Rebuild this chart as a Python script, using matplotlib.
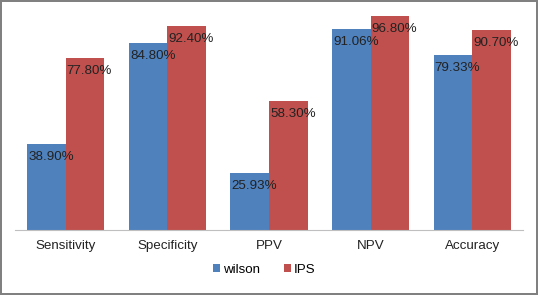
import matplotlib.pyplot as plt
import numpy as np

categories = ["Sensitivity", "Specificity", "PPV", "NPV", "Accuracy"]
wilson = [38.90, 84.80, 25.93, 91.06, 79.33]
ips = [77.80, 92.40, 58.30, 96.80, 90.70]
series_names = ["wilson", "IPS"]

blue = "#4F81BD"
red = "#C0504D"

plt.rcParams["font.family"] = ["Liberation Sans", "DejaVu Sans"]

fig = plt.figure(figsize=(5.38, 2.95), dpi=100)
fig.patch.set_edgecolor("#808080")
fig.patch.set_linewidth(1.5)
ax = fig.add_axes([15 / 538, (295 - 230) / 295, 508 / 538, 221 / 295])

x = np.arange(len(categories))
w = 0.379
b1 = ax.bar(x - w / 2, wilson, w, color=blue, label=series_names[0])
b2 = ax.bar(x + w / 2, ips, w, color=red, label=series_names[1])

for bars, vals in ((b1, wilson), (b2, ips)):
    for bar, v in zip(bars, vals):
        ax.annotate(f"{v:.2f}%", (bar.get_x(), v), xytext=(1, -13),
                    textcoords="offset pixels", ha="left", va="center",
                    fontsize=9.6, color="#222222")

ax.set_xlim(-0.5, 4.5)
ax.set_ylim(0, 100)
ax.set_xticks(x)
ax.set_xticklabels(categories, fontsize=9.6, color="#222222")
ax.tick_params(axis="x", length=0, pad=7)
ax.set_yticks([])
for s in ("left", "right", "top"):
    ax.spines[s].set_visible(False)
ax.spines["bottom"].set_color("#BFBFBF")

fig.legend(handles=[b1, b2], loc="center", bbox_to_anchor=(264 / 538, (295 - 270) / 295),
           ncol=2, frameon=False, fontsize=9.6, handlelength=0.55, handleheight=0.55,
           handletextpad=0.2, columnspacing=1.8)

fig.savefig("out.png", dpi=100, edgecolor=fig.get_edgecolor())
